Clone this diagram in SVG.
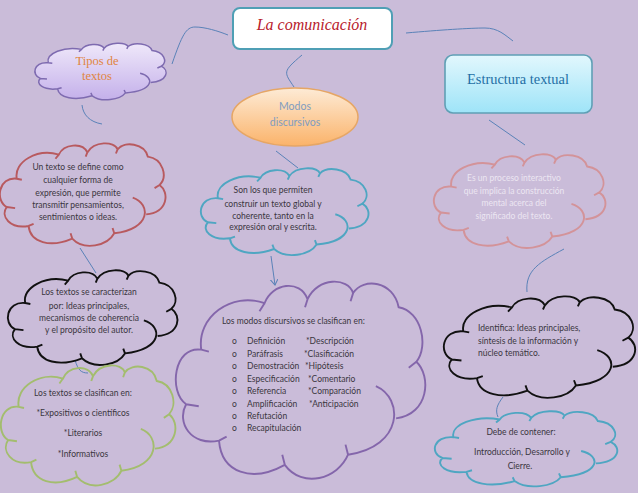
<svg xmlns="http://www.w3.org/2000/svg" xmlns:xlink="http://www.w3.org/1999/xlink" width="638" height="493" viewBox="0 0 638 493">
<style>
#cloud{vector-effect:non-scaling-stroke}
.cl{stroke-width:1.9;fill:none}
.con{fill:none;stroke:#5a82b8;stroke-width:1}
text{font-family:"Lato","Liberation Sans",sans-serif;font-size:8.5px;fill:#3a3640;letter-spacing:0}
.m{text-anchor:middle}
.sf{font-family:"Liberation Serif","DejaVu Serif",serif}
</style>
<defs>
<path id="cloud" d="M10,34C8,18 22,5 35,11C38,1 49,-1 52,9C56,-2 68,-2 70,6C74,-2 86,0 88,13C97,15 100,32 95,40C101,47 100,66 87,68M79,52C90,58 90,82 68,86C64,98 50,103 43,91C30,100 18,95 17,79C6,82 0,70 4,61C-3,55 -1,32 10,34M35,11L33,15M52,9L51,13M70,6L69,10M95,40L92,43M68,86L67,81M43,91L42,86M17,79L20,77M4,61L9,62M10,34L13,35"/>
<linearGradient id="gCloud" x1="0" y1="0" x2="0" y2="1"><stop offset="0" stop-color="#efe8fa"/><stop offset="1" stop-color="#c4b0ea"/></linearGradient>
<linearGradient id="gEll" x1="0" y1="0" x2="0" y2="1"><stop offset="0" stop-color="#fdebd6"/><stop offset="1" stop-color="#fbb36a"/></linearGradient>
<linearGradient id="gRect" x1="0" y1="0" x2="0" y2="1"><stop offset="0" stop-color="#e2f7fd"/><stop offset="1" stop-color="#9ee4f8"/></linearGradient>
<marker id="arr" markerWidth="10" markerHeight="10" refX="6" refY="4" orient="auto" markerUnits="userSpaceOnUse"><path d="M0,0L6,4L0,8" fill="none" stroke="#5a82b8" stroke-width="1"/></marker>
</defs>
<rect width="638" height="493" fill="#cabcd9"/>
<g id="connectors">
<path class="con" d="M172,64C182,35 186,27 195,27C205,27 218,31 228,35"/>
<path class="con" d="M302,55C282,72 284,72 294,87"/>
<path class="con" d="M82,105C83,115 90,122 102,124"/>
<path class="con" d="M276,151L298,168"/>
<path class="con" d="M406,33C440,30 470,28 485,28C498,28 505,35 513,41"/>
<path class="con" d="M489,120L525,145"/>
<path class="con" d="M80,248L96,273"/>
<path class="con" d="M75,360C78,370 81,373 88,373"/>
<path class="con" d="M271,256L275,285" marker-end="url(#arr)"/>
<path class="con" d="M564,249C540,262 525,270 527,292"/>
<path class="con" d="M503,397C497,405 495,410 498,417"/>
</g>
<g id="n-comunicacion"><rect x="233" y="8" width="159" height="41" rx="7" fill="#fff" stroke="#4f9fb5" stroke-width="2"/><text class="m sf" x="312" y="30" style="font-size:16px;font-style:italic;fill:#b8202c">La comunicación</text></g>
<g id="n-tipos"><use href="#cloud" transform="translate(35,43) scale(1.33,.58)" class="cl" style="fill:url(#gCloud);stroke:#7e6bb0;stroke-width:1.5"/><text class="m sf" x="97" y="65" style="font-size:12.5px;fill:#e0853f">Tipos de</text><text class="m sf" x="97" y="80" style="font-size:12.5px;fill:#e0853f">textos</text></g>
<g id="n-estructura"><rect x="445" y="55" width="147" height="58" rx="8" fill="url(#gRect)" stroke="#5f9fb5" stroke-width="1.6"/><text class="m sf" x="518" y="84" style="font-size:14.4px;fill:#1f6fa5">Estructura textual</text></g>
<g id="n-modos"><ellipse cx="295" cy="117" rx="63" ry="29" fill="url(#gEll)" stroke="#e6a665" stroke-width="1.5"/><text class="m" x="295" y="110" style="font-size:10.5px;fill:#7f9cc0">Modos</text><text class="m" x="295" y="126" style="font-size:10.5px;fill:#7f9cc0">discursivos</text></g>
<g id="n-define"><use href="#cloud" transform="translate(0,143) scale(1.68,1.05)" class="cl" stroke="#b85a5f"/><text class="m" x="78" y="170">Un texto se define como</text><text class="m" x="78" y="183">cualquier forma de</text><text class="m" x="78" y="196">expresión, que permite</text><text class="m" x="78" y="208">transmitir pensamientos,</text><text class="m" x="78" y="220">sentimientos o ideas.</text></g>
<g id="n-son"><use href="#cloud" transform="translate(201,168) scale(1.7,.89)" class="cl" stroke="#4fa6c2"/><text class="m" x="273" y="193">Son los que permiten</text><text class="m" x="273" y="207">construir un texto global y</text><text class="m" x="273" y="219">coherente, tanto en la</text><text class="m" x="273" y="230">expresión oral y escrita.</text></g>
<g id="n-proceso"><use href="#cloud" transform="translate(434,154) scale(1.74,.96)" class="cl" stroke="#d39399"/><text class="m" x="514" y="181" style="fill:#ece6f2">Es un proceso interactivo</text><text class="m" x="514" y="194" style="fill:#ece6f2">que implica la construcción</text><text class="m" x="514" y="206" style="fill:#ece6f2">mental acerca del</text><text class="m" x="514" y="219" style="fill:#ece6f2">significado del texto.</text></g>
<g id="n-caracterizan"><use href="#cloud" transform="translate(8,270) scale(1.72,.97)" class="cl" stroke="#111"/><text class="m" x="89" y="295">Los textos se caracterizan</text><text class="m" x="89" y="309">por: Ideas principales,</text><text class="m" x="89" y="321">mecanismos de coherencia</text><text class="m" x="89" y="333">y el propósito del autor.</text></g>
<g id="n-clasifican"><use href="#cloud" transform="translate(1,365) scale(1.77,1.23)" class="cl" stroke="#a3bd6e"/><text class="m" x="83" y="396">Los textos se clasifican en:</text><text class="m" x="83" y="416">*Expositivos o científicos</text><text class="m" x="83" y="436">*Literarios</text><text class="m" x="83" y="457">*Informativos</text></g>
<g id="n-modosclas"><use href="#cloud" transform="translate(176,281) scale(2.53,2.02)" class="cl" stroke="#8466ab"/>
<text x="222" y="324">Los modos discursivos se clasifican en:</text>
<text x="232" y="344">o</text><text x="247" y="344">Definición</text><text x="306" y="344">*Descripción</text>
<text x="232" y="357">o</text><text x="247" y="357">Paráfrasis</text><text x="304" y="357">*Clasificación</text>
<text x="232" y="369">o</text><text x="247" y="369">Demostración</text><text x="305" y="369">*Hipótesis</text>
<text x="232" y="382">o</text><text x="247" y="382">Especificación</text><text x="308" y="382">*Comentario</text>
<text x="232" y="394">o</text><text x="247" y="394">Referencia</text><text x="308" y="394">*Comparación</text>
<text x="232" y="407">o</text><text x="247" y="407">Amplificación</text><text x="309" y="407">*Anticipación</text>
<text x="232" y="419">o</text><text x="247" y="419">Refutación</text>
<text x="232" y="431">o</text><text x="247" y="431">Recapitulación</text></g>
<g id="n-identifica"><use href="#cloud" transform="translate(444,296) scale(1.94,1.04)" class="cl" stroke="#111"/><text x="478" y="331">Identifica: Ideas principales,</text><text x="478" y="344">síntesis de la información y</text><text x="478" y="356">núcleo temático.</text></g>
<g id="n-contener"><use href="#cloud" transform="translate(435,411) scale(1.85,.77)" class="cl" stroke="#4fa6c2"/><text class="m" x="521" y="435">Debe de contener:</text><text class="m" x="522" y="455">Introducción, Desarrollo y</text><text class="m" x="520" y="469">Cierre.</text></g>
</svg>
